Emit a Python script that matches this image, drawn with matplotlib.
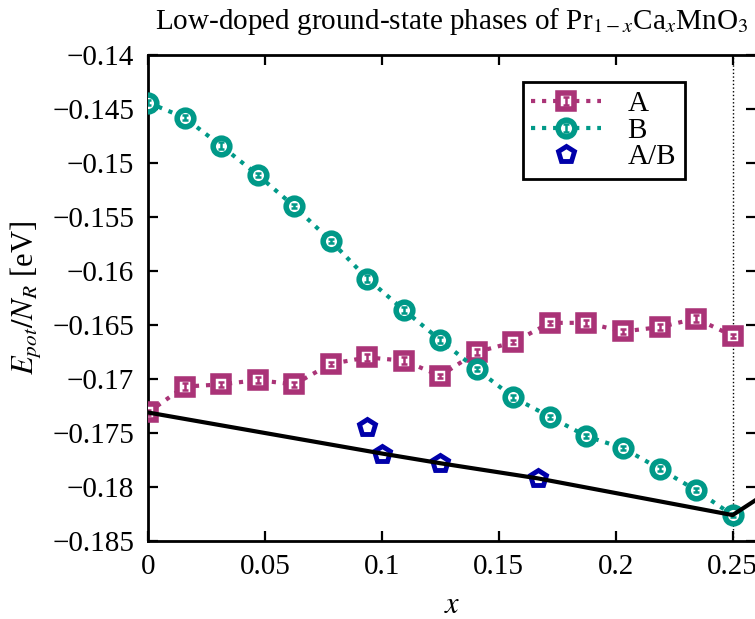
import numpy as np
import matplotlib
matplotlib.use("Agg")
import matplotlib.pyplot as plt
from matplotlib.legend_handler import HandlerErrorbar, HandlerTuple
from matplotlib.container import ErrorbarContainer

plt.rcParams['font.family'] = ['Liberation Serif', 'DejaVu Serif']
plt.rcParams['mathtext.fontset'] = 'stix'

# Daten
x_frac = np.arange(17) / 64.0
energy_A = [-0.1731, -0.1707, -0.1705, -0.1701, -0.1705, -0.1686, -0.1680, -0.1683,
            -0.1697, -0.1675, -0.1666, -0.1648, -0.1648, -0.1656, -0.1652, -0.1644, -0.1660]
err_A = [0.0002, 0.0003, 0.0002, 0.0003, 0.0002, 0.0002, 0.0003, 0.0003,
         0.0002, 0.0003, 0.0002, 0.0002, 0.0003, 0.0002, 0.0003, 0.0003, 0.0002]
energy_B = [-0.1444, -0.1458, -0.1484, -0.1511, -0.1540, -0.1572, -0.1607, -0.1636,
            -0.1664, -0.1691, -0.1717, -0.1735, -0.1753, -0.1764, -0.1783, -0.1803, -0.1826]
err_B = [0.0002, 0.0002, 0.0003, 0.0002, 0.0002, 0.0002, 0.0003, 0.0003,
         0.0003, 0.0002, 0.0002, 0.0002, 0.0002, 0.0002, 0.0002, 0.0002, 0.0002]
x_AB = [3 / 32, 0.1, 0.125, 1 / 6]
energy_AB = [-0.1744, -0.1769, -0.1778, -0.1792]
x_hull = [0.0, 0.1, 0.125, 1 / 6, 0.25, 0.28125]
energy_hull = [-0.1731, -0.1769, -0.1778, -0.1792, -0.1826, -0.1782]

xticks = [0, 0.05, 0.1, 0.15, 0.2, 0.25]
xtick_labels = ['0', '0.05', '0.1', '0.15', '0.2', '0.25']
yticks = [-0.14, -0.145, -0.15, -0.155, -0.16, -0.165, -0.17, -0.175, -0.18, -0.185]
ytick_labels = ['\u22120.14', '\u22120.145', '\u22120.15', '\u22120.155', '\u22120.16',
                '\u22120.165', '\u22120.17', '\u22120.175', '\u22120.18', '\u22120.185']

col_A = '#aa3377'
col_B = '#009988'
col_AB = '#0000aa'

fig = plt.figure(figsize=(7.55, 6.19), dpi=100)
ax = fig.add_axes([148 / 755, 78 / 619, 608 / 755, 486 / 619])

# Linie + Marker, darueber die kleinen Fehlerbalken
lA, = ax.plot(x_frac, energy_A, 's:', color=col_A, lw=3, ms=12, mfc='white',
              mew=4, zorder=3)
eA = ax.errorbar(x_frac, energy_A, yerr=err_A, fmt='none', ecolor=col_A,
                 capsize=2.5, elinewidth=1.8, capthick=1.8, zorder=3.5)
lB, = ax.plot(x_frac, energy_B, 'o:', color=col_B, lw=3, ms=12, mfc='white',
              mew=4, zorder=3)
eB = ax.errorbar(x_frac, energy_B, yerr=err_B, fmt='none', ecolor=col_B,
                 capsize=2.5, elinewidth=1.8, capthick=1.8, zorder=3.5)
hAB, = ax.plot(x_AB, energy_AB, 'p', color=col_AB, ms=12, mfc='white', mew=3.5,
               ls='none', zorder=4)
ax.plot(x_hull, energy_hull, '-', color='black', lw=3, zorder=5)
ax.axvline(0.25, color='black', ls=':', lw=1, zorder=2)

ax.set_xlim(0, 0.26)
ax.set_ylim(-0.185, -0.14)
ax.set_xticks(xticks)
ax.set_xticklabels(xtick_labels)
ax.set_yticks(yticks)
ax.set_yticklabels(ytick_labels)
ax.tick_params(direction='in', top=True, right=True, length=7, width=1.6,
               labelsize=21)
ax.tick_params(axis='y', pad=10)
ax.tick_params(axis='x', pad=9)
for s in ax.spines.values():
    s.set_linewidth(2)

ax.set_xlabel('$x$', fontsize=22, labelpad=8)
ax.set_ylabel('$E_{pot}/N_R$ [eV]', fontsize=22, labelpad=6)
ax.set_title('Low-doped ground-state phases of Pr$_{1-x}$Ca$_x$MnO$_3$',
             fontsize=21, pad=19)

leg = ax.legend([(lA, eA), (lB, eB), hAB], ['A', 'B', 'A/B'], loc='upper right',
                bbox_to_anchor=(0.883, 0.944), fontsize=21,
                handler_map={ErrorbarContainer: HandlerErrorbar(yerr_size=0.14),
                             tuple: HandlerTuple(ndivide=1)},
                frameon=True, fancybox=False, edgecolor='black', framealpha=1,
                handlelength=2.4, borderpad=0.3, labelspacing=0.0, handletextpad=0.9,
                borderaxespad=0)
leg.get_frame().set_linewidth(2)

fig.savefig('out.png', dpi=100)
